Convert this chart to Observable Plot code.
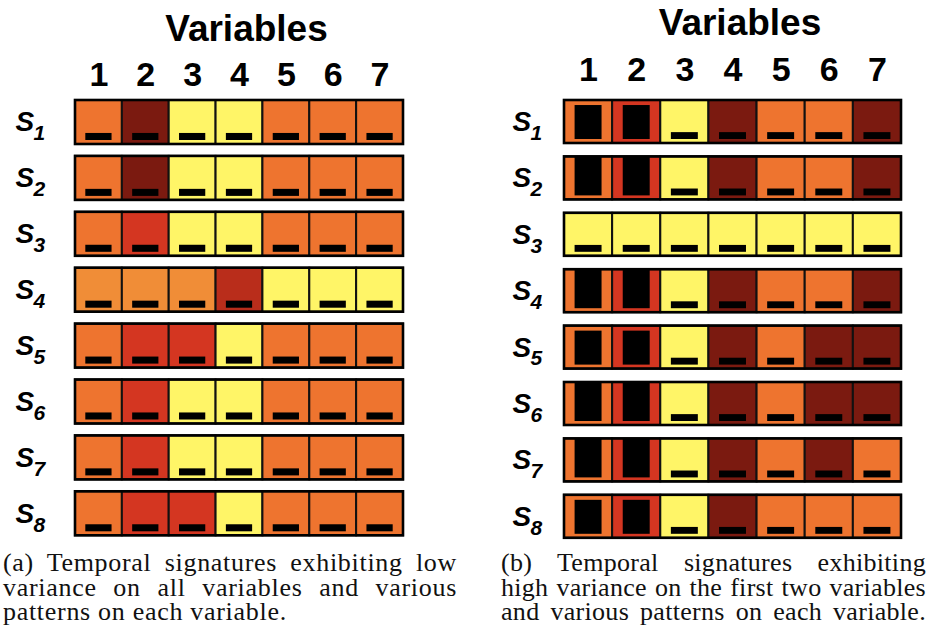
<!DOCTYPE html>
<html>
<head>
<meta charset="utf-8">
<script src="https://cdn.jsdelivr.net/npm/d3@7"></script>
<script src="https://cdn.jsdelivr.net/npm/@observablehq/plot@0.6"></script>
<style>
  body { margin: 0; background: #fff; }
  #page { position: relative; width: 938px; height: 629px; overflow: hidden; background: #fff; }
  .panel { position: absolute; top: 0; }
  .panel svg { display: block; background: transparent; }
  .caption { position: absolute; top: 551px; font-family: "Liberation Serif", "Times New Roman", serif;
             font-size: 26px; line-height: 24.5px; color: #111; }
  .caption div { text-align: justify; text-align-last: justify; }
  .caption div.last { text-align-last: left; }
</style>
</head>
<body>
<div id="page">
  <div class="panel" id="panel-a" style="left:0px"></div>
  <div class="panel" id="panel-b" style="left:469px"></div>
  <div class="caption" style="left:3px; width:454px; letter-spacing:0.7px">
    <div>(a) Temporal signatures exhibiting low</div>
    <div>variance on all variables and various</div>
    <div class="last">patterns on each variable.</div>
  </div>
  <div class="caption" style="left:501px; width:425px; letter-spacing:0.3px">
    <div>(b) Temporal signatures exhibiting</div>
    <div>high variance on the first two variables</div>
    <div>and various patterns on each variable.</div>
  </div>
</div>
<script>
// Variables (columns) and temporal signatures (rows)
const variables = [1, 2, 3, 4, 5, 6, 7];
const signatures = [1, 2, 3, 4, 5, 6, 7, 8];

// Mean level of each variable: 0 = lowest (dark) ... 5 = highest (yellow)
const levelColors = ["#7b1a10", "#b92d1b", "#d43621", "#ee742f", "#f08d37", "#fff567"];

const meansLow = [
  [3, 0, 5, 5, 3, 3, 3],
  [3, 0, 5, 5, 3, 3, 3],
  [3, 2, 5, 5, 3, 3, 3],
  [4, 4, 4, 1, 5, 5, 5],
  [3, 2, 2, 5, 3, 3, 3],
  [3, 2, 5, 5, 3, 3, 3],
  [3, 2, 5, 5, 3, 3, 3],
  [3, 2, 2, 5, 3, 3, 3]
];

const meansHigh = [
  [3, 2, 5, 0, 3, 3, 0],
  [3, 2, 5, 0, 3, 3, 0],
  [5, 5, 5, 5, 5, 5, 5],
  [3, 2, 5, 0, 3, 3, 0],
  [3, 2, 5, 0, 3, 0, 0],
  [3, 2, 5, 0, 3, 0, 0],
  [3, 2, 5, 0, 3, 0, 3],
  [3, 2, 5, 0, 3, 3, 3]
];

// Variance of each variable, as a share of the cell height
const spreadLow = [
  [0.16, 0.16, 0.16, 0.16, 0.16, 0.16, 0.16],
  [0.16, 0.16, 0.16, 0.16, 0.16, 0.16, 0.16],
  [0.16, 0.16, 0.16, 0.16, 0.16, 0.16, 0.16],
  [0.16, 0.16, 0.16, 0.16, 0.16, 0.16, 0.16],
  [0.16, 0.16, 0.16, 0.16, 0.16, 0.16, 0.16],
  [0.16, 0.16, 0.16, 0.16, 0.16, 0.16, 0.16],
  [0.16, 0.16, 0.16, 0.16, 0.16, 0.16, 0.16],
  [0.16, 0.16, 0.16, 0.16, 0.16, 0.16, 0.16]
];

const spreadHigh = [
  [0.79, 0.79, 0.16, 0.16, 0.16, 0.16, 0.16],
  [0.90, 0.90, 0.16, 0.16, 0.16, 0.16, 0.16],
  [0.16, 0.16, 0.16, 0.16, 0.16, 0.16, 0.16],
  [0.90, 0.90, 0.16, 0.16, 0.16, 0.16, 0.16],
  [0.79, 0.79, 0.16, 0.16, 0.16, 0.16, 0.16],
  [0.90, 0.90, 0.16, 0.16, 0.16, 0.16, 0.16],
  [0.90, 0.90, 0.16, 0.16, 0.16, 0.16, 0.16],
  [0.79, 0.79, 0.16, 0.16, 0.16, 0.16, 0.16]
];

function signaturePanel({means, spreads, width, height, marginLeft, marginRight, pitch, cellH,
                         titleDy, tickPadding, labelDx}) {
  const h = cellH / pitch;       // cell height, in row units
  const inset = 4 / pitch;       // gap under the variance bar
  const half = 0.28;             // half width of the variance bar, in column units
  const rows = signatures.map((s, r) => ({s, r}));
  const cells = rows.flatMap(({s, r}) => variables.map((v, c) => ({
    s, r, v, level: means[r][c], spread: spreads[r][c]
  })));
  const lo = variables[0] - 0.5, hi = variables[variables.length - 1] + 0.5;
  const marginTop = 100;
  const marginBottom = height - marginTop - pitch * (signatures.length - 1 + h);
  return Plot.plot({
    width, height, marginLeft, marginRight, marginTop, marginBottom,
    style: {fontFamily: "'Liberation Sans', Arial, sans-serif", color: "#000", background: "transparent", overflow: "visible"},
    x: {domain: [lo, hi], axis: null},
    y: {domain: [0, signatures.length - 1 + h], reverse: true, axis: null},
    color: {type: "ordinal", domain: d3.range(levelColors.length), range: levelColors},
    marks: [
      Plot.rect(cells, {
        x1: d => d.v - 0.5, x2: d => d.v + 0.5,
        y1: "r", y2: d => d.r + h,
        fill: "level", stroke: "#111", strokeWidth: 2
      }),
      Plot.rect(rows, {
        x1: () => lo, x2: () => hi,
        y1: "r", y2: d => d.r + h,
        fill: "none", stroke: "#000", strokeWidth: 2.6
      }),
      Plot.rect(cells, {
        x1: d => d.v - half, x2: d => d.v + half,
        y1: d => d.r + h - inset - d.spread * h, y2: d => d.r + h - inset,
        fill: "#000"
      }),
      Plot.axisX({
        anchor: "top", ticks: variables, tickFormat: d => String(d), tickSize: 0, tickPadding, label: null,
        fontSize: 34, fontWeight: "bold", fill: "#000"
      }),
      Plot.text(["Variables"], {
        text: d => d, frameAnchor: "top", lineAnchor: "bottom", dx: 7, dy: titleDy,
        fontSize: 37, fontWeight: "bold", fill: "#000"
      }),
      Plot.text(rows, {
        y: d => d.r + h / 2, text: () => "S", frameAnchor: "left", textAnchor: "start",
        dx: labelDx, fontSize: 28, fontWeight: "bold", fontStyle: "italic", fill: "#000"
      }),
      Plot.text(rows, {
        y: d => d.r + h / 2, text: d => String(d.s), frameAnchor: "left", textAnchor: "start",
        dx: labelDx + 18, dy: 11, fontSize: 21, fontWeight: "bold", fontStyle: "italic", fill: "#000"
      })
    ]
  });
}

document.getElementById("panel-a").append(signaturePanel({
  means: meansLow, spreads: spreadLow,
  width: 469, height: 545, marginLeft: 75, marginRight: 66,
  pitch: 55.9, cellH: 44, titleDy: -60, tickPadding: 15, labelDx: -60
}));

document.getElementById("panel-b").append(signaturePanel({
  means: meansHigh, spreads: spreadHigh,
  width: 469, height: 548, marginLeft: 95, marginRight: 37,
  pitch: 56.4, cellH: 43, titleDy: -66, tickPadding: 20, labelDx: -52
}));
</script>
</body>
</html>
